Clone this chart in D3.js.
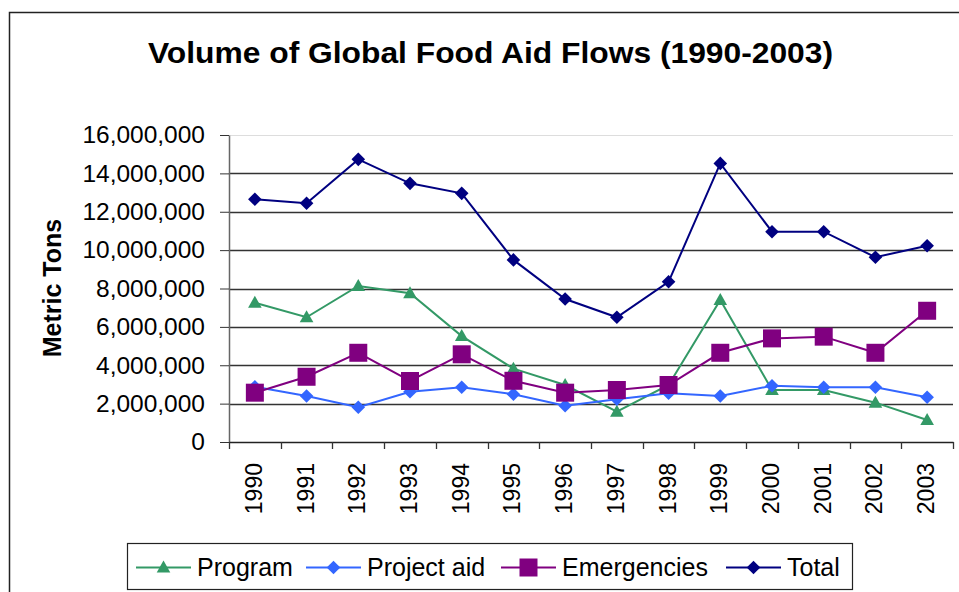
<!DOCTYPE html>
<html><head><meta charset="utf-8">
<script src="https://cdn.jsdelivr.net/npm/d3@7"></script>
<style>body{margin:0;background:#fff}svg{display:block}text{font-family:"Liberation Sans",Arial,Helvetica,sans-serif;fill:#000}</style>
</head><body><svg id="c" width="959" height="592"></svg>
<script>
const years = ["1990","1991","1992","1993","1994","1995","1996","1997","1998","1999","2000","2001","2002","2003"];
const program     = [7260000,6500000,8130000,7750000,5520000,3820000,2970000,1580000,2970000,7400000,2710000,2710000,2050000,1150000];
const projectAid  = [2880000,2400000,1810000,2620000,2850000,2490000,1890000,2230000,2540000,2400000,2930000,2850000,2850000,2330000];
const emergencies = [2570000,3400000,4650000,3180000,4570000,3190000,2570000,2710000,2970000,4650000,5400000,5490000,4650000,6840000];
const total       = [12650000,12440000,14730000,13480000,12960000,9490000,7450000,6500000,8350000,14520000,10960000,10960000,9630000,10230000];
const seriesNames = ["Program","Project aid","Emergencies","Total"];
const yTicks = [0,2000000,4000000,6000000,8000000,10000000,12000000,14000000,16000000];

const colors = ["#339966","#3366FF","#800080","#000080"];
const markers = ["triangle","diamond","square","diamond"];
const seriesValues = [program, projectAid, emergencies, total];

const svg = d3.select("#c");
const L = 229, R = 953, T = 135, B = 442;

// outer frame
svg.append("rect").attr("x",9.5).attr("y",12.5).attr("width",1000).attr("height",700)
  .attr("fill","none").attr("stroke","#222").attr("stroke-width",1.5);

// title
svg.append("text").attr("x",490.5).attr("y",63).attr("text-anchor","middle")
  .attr("font-size",30).attr("font-weight","bold").attr("textLength",685).attr("lengthAdjust","spacingAndGlyphs")
  .text("Volume of Global Food Aid Flows (1990-2003)");

const x = d3.scaleBand().domain(years).range([L,R]).paddingInner(0).paddingOuter(0);
const y = d3.scaleLinear().domain([0,16000000]).range([B,T]);

// gridlines
svg.append("g").selectAll("line").data(yTicks.filter(d=>d>0)).join("line")
  .attr("x1",L).attr("x2",R).attr("y1",d=>Math.round(y(d))+0.5).attr("y2",d=>Math.round(y(d))+0.5)
  .attr("stroke",d=>d===16000000?"#ddd":"#333").attr("stroke-width",d=>d===16000000?1:1.3);

// y axis
const fmt = d3.format(",");
const ya = svg.append("g").attr("transform",`translate(${L},0)`)
  .call(d3.axisLeft(y).tickValues(yTicks).tickFormat(fmt).tickSize(9).tickSizeOuter(0).tickPadding(15));
ya.select(".domain").attr("stroke","#666").attr("stroke-width",1.5);
ya.selectAll(".tick line").attr("stroke","#333");
ya.selectAll(".tick text").attr("font-size",24.5).attr("font-family","'Liberation Sans',Arial,sans-serif").attr("fill","#000");

// x axis
const xa = svg.append("g").attr("transform",`translate(0,${B})`)
  .call(d3.axisBottom(x).tickSize(0).tickSizeOuter(0).tickPadding(0));
xa.select(".domain").attr("stroke","#222").attr("stroke-width",1.5);
xa.selectAll(".tick text").remove();
// tick marks at category boundaries
const bounds = years.map(d=>x(d)).concat([R]);
xa.selectAll(".bt").data(bounds).join("line").attr("class","bt")
  .attr("x1",d=>Math.round(d)+0.5).attr("x2",d=>Math.round(d)+0.5).attr("y1",0).attr("y2",7)
  .attr("stroke","#333").attr("stroke-width",1.3);
// rotated labels
svg.append("g").selectAll("text").data(years).join("text")
  .attr("transform",d=>`translate(${x(d)+x.bandwidth()/2+7},${B+21}) rotate(-90)`)
  .attr("text-anchor","end").attr("font-size",23).text(d=>d);

// y title
svg.append("text").attr("transform","translate(61,288) rotate(-90)").attr("text-anchor","middle")
  .attr("font-size",25).attr("font-weight","bold").text("Metric Tons");

function markerPath(type){
  if(type==="triangle") return "M0,-7L6.8,5L-6.8,5Z";
  if(type==="diamond") return "M0,-6.8L6.8,0L0,6.8L-6.8,0Z";
  return "M-9,-9L9,-9L9,9L-9,9Z";
}

const line = d3.line().x((d,i)=>x(years[i])+x.bandwidth()/2).y(d=>y(d));
seriesValues.forEach((vals,si)=>{
  const g = svg.append("g");
  g.append("path").datum(vals).attr("d",line).attr("fill","none")
    .attr("stroke",colors[si]).attr("stroke-width",2);
  g.selectAll("path.m").data(vals).join("path").attr("class","m")
    .attr("transform",(d,i)=>`translate(${x(years[i])+x.bandwidth()/2},${y(d)})`)
    .attr("d",markerPath(markers[si])).attr("fill",colors[si]);
});

// legend
const lg = svg.append("g");
lg.append("rect").attr("x",127.5).attr("y",543.5).attr("width",725).attr("height",46)
  .attr("fill","#fff").attr("stroke","#222").attr("stroke-width",1.2);
const lStarts = [136,306,501,726];
seriesNames.forEach((n,i)=>{
  const x0 = lStarts[i], cy = 567.5;
  lg.append("line").attr("x1",x0).attr("x2",x0+55).attr("y1",cy).attr("y2",cy)
    .attr("stroke",colors[i]).attr("stroke-width",2);
  lg.append("path").attr("transform",`translate(${x0+27.5},${cy})`).attr("d",markerPath(markers[i]))
    .attr("fill",colors[i]);
  lg.append("text").attr("x",x0+61).attr("y",576).attr("font-size",25).text(n);
});
</script></body></html>
